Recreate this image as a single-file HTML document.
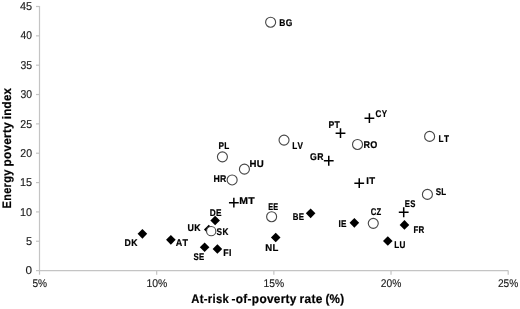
<!DOCTYPE html><html><head><meta charset="utf-8"><title>Energy poverty index vs at-risk-of-poverty rate</title><style>html,body{margin:0;padding:0;background:#fff;overflow:hidden}svg{display:block;will-change:transform}text{font-family:"Liberation Sans",sans-serif;text-rendering:geometricPrecision;white-space:pre}</style></head><body>
<svg width="520" height="309" viewBox="0 0 520 309">
<g stroke="#c4c4c4" stroke-width="1.2" fill="none">
<path d="M39.5 5.90V270.6H508.2"/>
<path d="M36.0 270.60H39.5"/>
<path d="M36.0 241.26H39.5"/>
<path d="M36.0 211.91H39.5"/>
<path d="M36.0 182.57H39.5"/>
<path d="M36.0 153.22H39.5"/>
<path d="M36.0 123.88H39.5"/>
<path d="M36.0 94.53H39.5"/>
<path d="M36.0 65.19H39.5"/>
<path d="M36.0 35.84H39.5"/>
<path d="M36.0 6.50H39.5"/>
<path d="M39.50 270.6V274.7"/>
<path d="M156.68 270.6V274.7"/>
<path d="M273.85 270.6V274.7"/>
<path d="M391.02 270.6V274.7"/>
<path d="M508.20 270.6V274.7"/>
</g>
<g fill="#1a1a1a" stroke="#1a1a1a" stroke-width="0.15" stroke-linejoin="round">
<text transform="translate(25.557,274.225) scale(1.0286,1)" font-size="11.410" x="0" y="0" >0</text>
<text transform="translate(25.986,244.881) scale(0.9612,1)" font-size="11.410" x="0" y="0" >5</text>
<text transform="translate(20.000,215.536) scale(0.9493,1)" font-size="11.410" x="0 6.346" y="0" >10</text>
<text transform="translate(19.997,186.192) scale(0.9521,1)" font-size="11.410" x="0 6.346" y="0" >15</text>
<text transform="translate(20.294,156.847) scale(0.9253,1)" font-size="11.410" x="0 6.346" y="0" >20</text>
<text transform="translate(20.292,127.503) scale(0.9280,1)" font-size="11.410" x="0 6.346" y="0" >25</text>
<text transform="translate(20.428,98.158) scale(0.9144,1)" font-size="11.410" x="0 6.346" y="0" >30</text>
<text transform="translate(20.427,68.814) scale(0.9170,1)" font-size="11.410" x="0 6.346" y="0" >35</text>
<text transform="translate(20.589,39.469) scale(0.9012,1)" font-size="11.410" x="0 6.346" y="0" >40</text>
<text transform="translate(19.924,10.125) scale(0.9581,1)" font-size="11.410" x="0 6.346" y="0" >45</text>
<text transform="translate(32.478,286.825) scale(0.9074,1)" font-size="11.192" x="0 6.224" y="0" >5%</text>
<text transform="translate(146.379,286.825) scale(0.9339,1)" font-size="11.192" x="0 6.224 12.449" y="0" >10%</text>
<text transform="translate(263.591,286.825) scale(0.9197,1)" font-size="11.192" x="0 6.224 12.449" y="0" >15%</text>
<text transform="translate(380.759,286.825) scale(0.9166,1)" font-size="11.192" x="0 6.224 12.449" y="0" >20%</text>
<text transform="translate(497.964,286.825) scale(0.9073,1)" font-size="11.192" x="0 6.224 12.449" y="0" >25%</text>
</g>
<g fill="#000" stroke="#000" stroke-width="0.22" stroke-linejoin="round">
<text transform="translate(191.198,302.640) scale(0.9038,1)" font-size="12.544" font-weight="bold" x="0 9.391 13.9 18.409 23.622 27.439 34.747" y="0" >At-risk</text>
<text transform="translate(231.587,302.640) scale(0.9445,1)" font-size="12.544" font-weight="bold" x="0 4.495 12.475 16.969 21.464 29.444 37.424 44.717 52.011 57.21 61.705" y="0" >-of-poverty</text>
<text transform="translate(299.523,302.640) scale(0.9515,1)" font-size="12.544" font-weight="bold" x="0 5.197 12.488 16.981" y="0" >rate</text>
<text transform="translate(325.387,302.640) scale(0.9338,1)" font-size="12.544" font-weight="bold" x="0 4.498 15.973" y="0" >(%)</text>
<text transform="translate(10.790,207.870) rotate(-90) translate(-0.626,0) scale(0.8925,1)" font-size="12.326" font-weight="bold" x="0 8.557 16.422 23.613 28.746 36.611" y="0" >Energy</text>
<text transform="translate(10.790,165.860) rotate(-90) translate(-0.665,0) scale(0.9543,1)" font-size="12.326" font-weight="bold" x="0 7.843 15.687 22.856 30.025 35.136 39.555" y="0" >poverty</text>
<text transform="translate(10.790,118.520) rotate(-90) translate(-0.693,0) scale(0.9327,1)" font-size="12.326" font-weight="bold" x="0 3.746 11.597 19.447 26.624" y="0" >index</text>
</g>
<g fill="#000">
<path d="M208.75 224.75L213.55 229.55L208.75 234.35L203.95 229.55Z"/>
<path d="M142.40 229.05L147.20 233.85L142.40 238.65L137.60 233.85Z"/>
<path d="M170.87 235.07L175.67 239.87L170.87 244.67L166.07 239.87Z"/>
<path d="M204.62 242.47L209.42 247.27L204.62 252.07L199.82 247.27Z"/>
<path d="M217.41 244.17L222.21 248.97L217.41 253.77L212.61 248.97Z"/>
<path d="M215.14 215.72L219.94 220.52L215.14 225.32L210.34 220.52Z"/>
<path d="M275.72 232.70L280.52 237.50L275.72 242.30L270.92 237.50Z"/>
<path d="M310.62 208.55L315.42 213.35L310.62 218.15L305.82 213.35Z"/>
<path d="M354.36 218.07L359.16 222.87L354.36 227.67L349.56 222.87Z"/>
<path d="M387.80 236.26L392.60 241.06L387.80 245.86L383.00 241.06Z"/>
<path d="M404.45 220.10L409.25 224.90L404.45 229.70L399.65 224.90Z"/>
</g>
<g fill="#fff" stroke="#474747" stroke-width="1.12">
<circle cx="270.62" cy="22.21" r="5.0"/>
<circle cx="222.42" cy="156.87" r="5.0"/>
<circle cx="244.42" cy="169.14" r="5.0"/>
<circle cx="232.14" cy="179.94" r="5.0"/>
<circle cx="284.04" cy="140.09" r="5.0"/>
<circle cx="357.52" cy="144.47" r="5.0"/>
<circle cx="429.62" cy="136.42" r="5.0"/>
<circle cx="427.42" cy="194.42" r="5.0"/>
<circle cx="373.27" cy="223.35" r="5.0"/>
<circle cx="271.62" cy="216.70" r="5.0"/>
<circle cx="211.20" cy="231.15" r="4.65"/>
</g>
<g stroke="#000" stroke-width="1.5" fill="none">
<path d="M228.95 202.70H238.75M233.85 197.80V207.60"/>
<path d="M398.80 212.25H408.60M403.70 207.35V217.15"/>
<path d="M354.35 183.15H364.15M359.25 178.25V188.05"/>
<path d="M323.85 160.75H333.65M328.75 155.85V165.65"/>
<path d="M335.60 133.15H345.40M340.50 128.25V138.05"/>
<path d="M364.50 118.15H374.30M369.40 113.25V123.05"/>
</g>
<g fill="#000" stroke="#000" stroke-width="0.22" stroke-linejoin="round">
<text transform="translate(279.340,25.730) scale(0.8676,1)" font-size="9.753" font-weight="bold" x="0 7.389" y="0" >BG</text>
<text transform="translate(438.613,141.825) scale(0.8430,1)" font-size="9.753" font-weight="bold" x="0 6.313" y="0" >LT</text>
<text transform="translate(124.599,246.255) scale(0.8915,1)" font-size="9.753" font-weight="bold" x="0 7.38" y="0" >DK</text>
<text transform="translate(218.417,148.780) scale(0.8410,1)" font-size="9.753" font-weight="bold" x="0 6.862" y="0" >PL</text>
<text transform="translate(249.475,166.780) scale(0.9861,1)" font-size="9.753" font-weight="bold" x="0 7.347" y="0" >HU</text>
<text transform="translate(213.453,181.780) scale(0.8962,1)" font-size="9.753" font-weight="bold" x="0 7.378" y="0" >HR</text>
<text transform="translate(292.218,148.735) scale(0.8380,1)" font-size="9.753" font-weight="bold" x="0 6.315" y="0" >LV</text>
<text transform="translate(363.391,148.455) scale(0.9309,1)" font-size="9.753" font-weight="bold" x="0 7.365" y="0" >RO</text>
<text transform="translate(435.708,195.190) scale(0.8227,1)" font-size="9.753" font-weight="bold" x="0 6.87" y="0" >SL</text>
<text transform="translate(370.669,215.240) scale(0.7856,1)" font-size="9.753" font-weight="bold" x="0 7.425" y="0" >CZ</text>
<text transform="translate(268.188,210.190) scale(0.7495,1)" font-size="9.753" font-weight="bold" x="0 6.905" y="0" >EE</text>
<text transform="translate(216.593,234.885) scale(0.8438,1)" font-size="9.753" font-weight="bold" x="0 6.861" y="0" >SK</text>
<text transform="translate(239.328,204.385) scale(1.0740,1)" font-size="9.753" font-weight="bold" x="0 8.404" y="0" >MT</text>
<text transform="translate(404.851,206.820) scale(0.7905,1)" font-size="9.753" font-weight="bold" x="0 6.885" y="0" >ES</text>
<text transform="translate(366.210,183.815) scale(0.9852,1)" font-size="9.753" font-weight="bold" x="0 3.014" y="0" >IT</text>
<text transform="translate(310.084,159.985) scale(0.8899,1)" font-size="9.753" font-weight="bold" x="0 7.923" y="0" >GR</text>
<text transform="translate(328.563,127.730) scale(0.8836,1)" font-size="9.753" font-weight="bold" x="0 6.845" y="0" >PT</text>
<text transform="translate(375.607,116.815) scale(0.8203,1)" font-size="9.753" font-weight="bold" x="0 7.409" y="0" >CY</text>
<text transform="translate(175.779,246.190) scale(0.9257,1)" font-size="9.753" font-weight="bold" x="0 7.367" y="0" >AT</text>
<text transform="translate(193.596,259.880) scale(0.8010,1)" font-size="9.753" font-weight="bold" x="0 6.88" y="0" >SE</text>
<text transform="translate(223.348,255.775) scale(0.8966,1)" font-size="9.753" font-weight="bold" x="0 6.292" y="0" >FI</text>
<text transform="translate(209.818,215.670) scale(0.8478,1)" font-size="9.753" font-weight="bold" x="0 7.397" y="0" >DE</text>
<text transform="translate(187.621,231.145) scale(0.9031,1)" font-size="9.753" font-weight="bold" x="0 7.375" y="0" >UK</text>
<text transform="translate(265.217,250.775) scale(0.9808,1)" font-size="9.753" font-weight="bold" x="0 7.349" y="0" >NL</text>
<text transform="translate(292.862,219.815) scale(0.8106,1)" font-size="9.753" font-weight="bold" x="0 7.413" y="0" >BE</text>
<text transform="translate(338.507,226.810) scale(0.8356,1)" font-size="9.753" font-weight="bold" x="0 3.069" y="0" >IE</text>
<text transform="translate(394.262,247.830) scale(0.8348,1)" font-size="9.753" font-weight="bold" x="0 6.317" y="0" >LU</text>
<text transform="translate(413.450,232.815) scale(0.8150,1)" font-size="9.753" font-weight="bold" x="0 6.326" y="0" >FR</text>
</g>
</svg></body></html>
